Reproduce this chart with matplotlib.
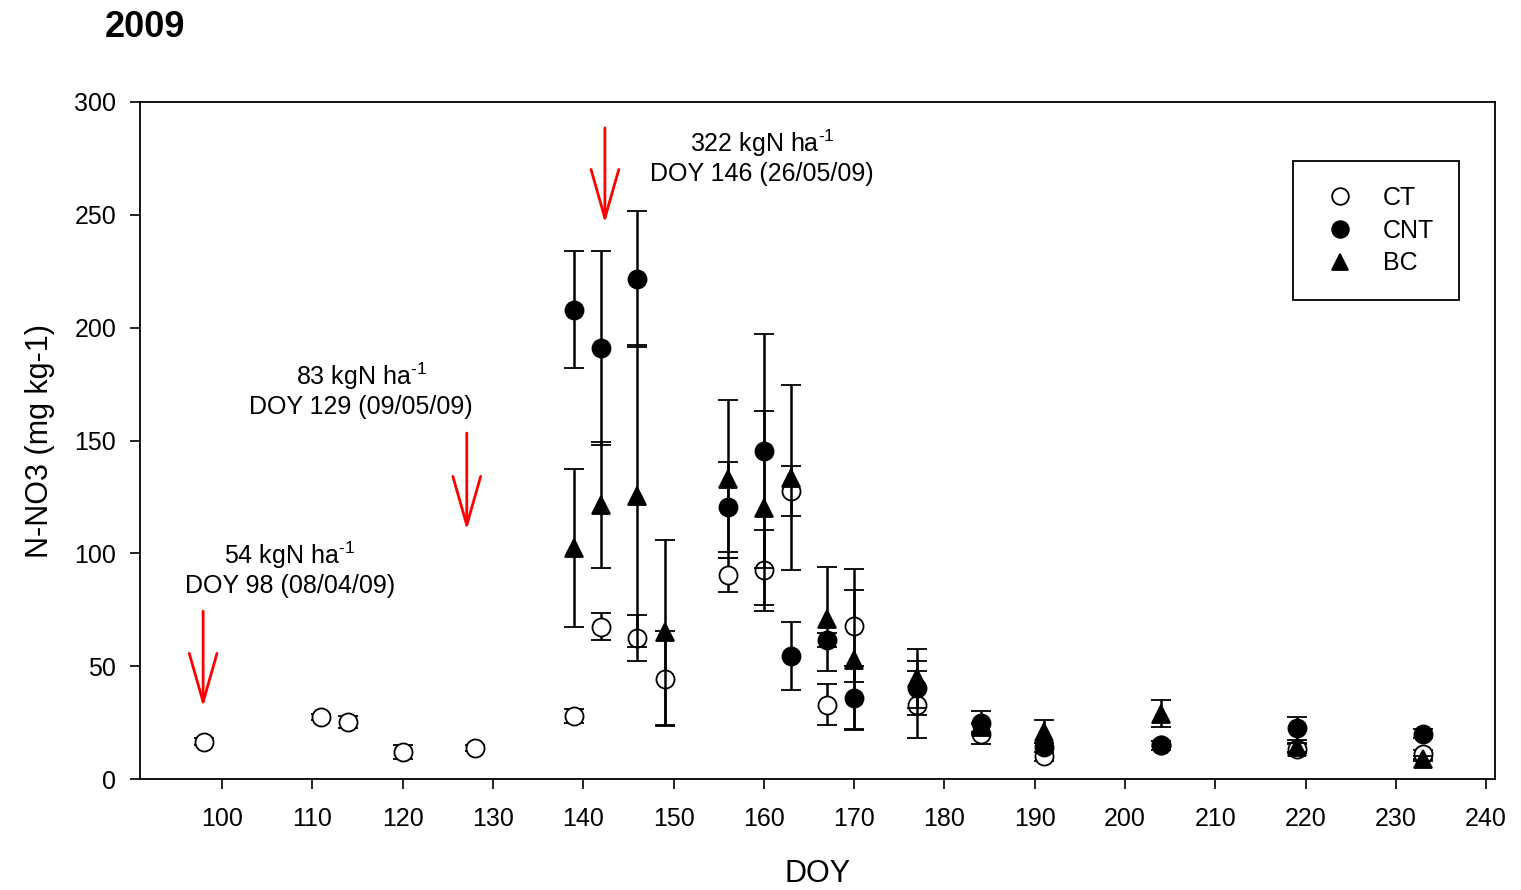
import matplotlib
matplotlib.use('Agg')
import matplotlib.pyplot as plt

plt.rcParams['font.family'] = ['Liberation Sans', 'DejaVu Sans']
plt.rcParams['mathtext.fontset'] = 'custom'
plt.rcParams['mathtext.rm'] = 'Liberation Sans'
plt.rcParams['mathtext.it'] = 'Liberation Sans'

# data (DOY, mean, error)
ct_doy = [98, 111, 114, 120, 128, 139, 142, 146, 149, 156, 160, 163, 167, 170, 177, 184, 191, 204, 219, 233]
ct_val = [16.5, 27.5, 25.3, 12, 13.7, 28, 67.5, 62.5, 44.5, 90.5, 92.5, 127.5, 33, 68, 33, 20, 10, 15, 13.5, 11]
ct_err = [1.5, 1.5, 2.5, 3, 1.5, 3, 6, 10, 21, 7.5, 18, 11, 9, 25, 15, 4.5, 2, 2, 2, 2]

cnt_doy = [139, 142, 146, 156, 160, 163, 167, 170, 177, 184, 191, 204, 219, 233]
cnt_val = [208, 191, 221.5, 120.5, 145.3, 54.5, 61.5, 36, 40.5, 25, 14, 15, 22.5, 20]
cnt_err = [26, 43, 30, 20, 52, 15, 3, 14, 12, 5, 2, 2, 5, 2]

bc_doy = [139, 142, 146, 149, 156, 160, 163, 167, 170, 177, 184, 191, 204, 219, 233]
bc_val = [102.3, 121.4, 125.4, 65, 133, 120, 133.5, 71, 52.7, 44.6, 23, 21, 29, 14, 9]
bc_err = [35, 28, 67, 41, 35, 43, 41, 23, 31, 13, 2, 5, 6, 2, 1]

# fertilisation events: arrow x, arrow top, arrow tip, text lines
fert_doy = [97.9, 127.1, 142.4]
fert_top = [74.4, 153.3, 288.5]
fert_tip = [31.9, 110.3, 246.3]
fert_line1 = ['54 kgN ha$^{\\text{-1}}$', '83 kgN ha$^{\\text{-1}}$', '322 kgN ha$^{\\text{-1}}$']
fert_line2 = ['DOY 98 (08/04/09)', 'DOY 129 (09/05/09)', 'DOY 146 (26/05/09)']
label_x = [107.5, 115.4, 159.8]
label_y1 = [95.3, 174.6, 277.8]
label_y2 = [82.4, 161.7, 265.0]

fig = plt.figure(figsize=(15.21, 8.9), dpi=100)
ax = fig.add_axes([0.092, 0.1247, 0.891, 0.7607])

eb = dict(ls='none', color='black', ecolor='black', elinewidth=1.8,
          capsize=7, capthick=1.8, markersize=13, markeredgewidth=1.3)
c1 = ax.errorbar(ct_doy, ct_val, yerr=ct_err, fmt='o', mfc='white', mec='black', zorder=2, **eb)
c2 = ax.errorbar(cnt_doy, cnt_val, yerr=cnt_err, fmt='o', mfc='black', mec='black', zorder=3, **eb)
c3 = ax.errorbar(bc_doy, bc_val, yerr=bc_err, fmt='^', mfc='black', mec='black', zorder=4, **eb)

for x, top, tip in zip(fert_doy, fert_top, fert_tip):
    ax.annotate('', xy=(x, tip), xytext=(x, top),
                arrowprops=dict(arrowstyle='->,head_length=3.5,head_width=1.0',
                                color='red', lw=2, shrinkA=0, shrinkB=0,
                                mutation_scale=10))
for x, y1, y2, t1, t2 in zip(label_x, label_y1, label_y2, fert_line1, fert_line2):
    ax.text(x, y1, t1, ha='center', va='baseline', fontsize=18)
    ax.text(x, y2, t2, ha='center', va='baseline', fontsize=18)

ax.set_xlim(90.9, 241)
ax.set_ylim(0, 300)
ax.set_xticks(range(100, 241, 10))
ax.set_yticks(range(0, 301, 50))
ax.tick_params(direction='out', length=7, width=1.2, labelsize=18)
ax.tick_params(axis='x', pad=13)
ax.tick_params(axis='y', pad=10)
for s in ax.spines.values():
    s.set_linewidth(1.3)

ax.set_xlabel('DOY', fontsize=22, labelpad=20)
ax.set_ylabel('N-NO3 (mg kg-1)', fontsize=22, labelpad=14)
fig.text(0.069, 0.969, '2009', fontsize=26, fontweight='bold', va='center', ha='left')

leg = ax.legend([c1[0], c2[0], c3[0]], ['CT', 'CNT', 'BC'],
                loc='upper right', bbox_to_anchor=(0.9734, 0.9129), fontsize=18,
                frameon=True, fancybox=False, edgecolor='black', framealpha=1,
                handlelength=1.75, handletextpad=0.85, labelspacing=0.35,
                borderpad=1.0, borderaxespad=0)
leg.get_frame().set_linewidth(1.3)
for h in leg.legend_handles:
    h.set_markersize(12)

fig.savefig('out.png', dpi=100)
